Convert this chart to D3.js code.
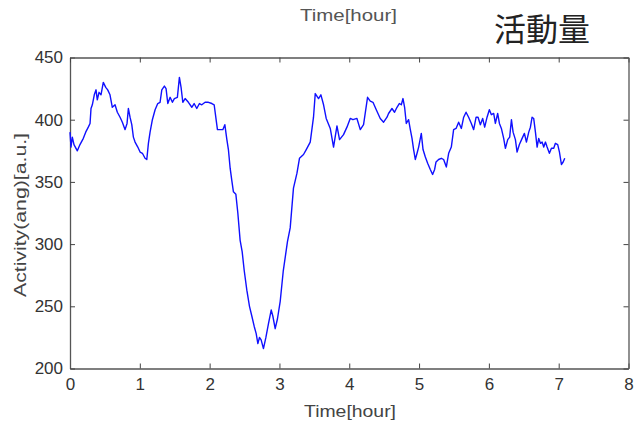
<!DOCTYPE html>
<html lang="ja">
<head>
<meta charset="utf-8">
<script src="https://cdn.jsdelivr.net/npm/d3@7"></script>
<style>
  body { margin: 0; background: #fff; }
  text { font-family: "Liberation Sans", Arial, sans-serif; }
  .jp { font-family: "Noto Sans CJK JP", sans-serif; }
</style>
</head>
<body>
<svg width="637" height="425"></svg>
<script>
// 時間 [hour]
var hours = [0.000,0.014,0.033,0.057,0.105,0.143,0.191,0.225,0.262,0.287,0.301,0.320,0.348,0.373,0.391,0.416,0.444,0.477,0.512,0.540,
  0.573,0.606,0.645,0.678,0.717,0.750,0.789,0.817,0.836,0.860,0.885,0.908,0.932,0.971,1.004,1.037,1.075,1.100,1.123,1.147,
  1.180,1.219,1.257,1.290,1.315,1.352,1.376,1.401,1.434,1.467,1.495,1.538,1.567,1.591,1.616,1.649,1.696,1.745,1.778,1.816,
  1.854,1.888,1.935,1.983,2.032,2.065,2.093,2.112,2.151,2.189,2.218,2.247,2.269,2.294,2.318,2.341,2.376,2.404,2.437,2.466,
  2.495,2.533,2.571,2.605,2.638,2.667,2.691,2.714,2.738,2.771,2.806,2.843,2.882,2.906,2.939,2.972,3.011,3.054,3.115,3.154,
  3.201,3.251,3.287,3.345,3.384,3.441,3.488,3.513,3.560,3.594,3.632,3.670,3.728,3.775,3.824,3.861,3.918,3.967,4.014,4.053,
  4.110,4.158,4.205,4.262,4.301,4.340,4.387,4.444,4.492,4.541,4.563,4.612,4.649,4.684,4.717,4.746,4.770,4.793,4.817,4.850,
  4.875,4.899,4.922,4.946,4.971,4.994,5.032,5.057,5.090,5.123,5.161,5.194,5.223,5.243,5.280,5.319,5.352,5.391,5.424,5.462,
  5.495,5.530,5.567,5.606,5.639,5.673,5.710,5.749,5.782,5.817,5.845,5.878,5.911,5.940,5.974,6.007,6.036,6.069,6.093,6.126,
  6.151,6.179,6.212,6.237,6.270,6.298,6.323,6.347,6.380,6.404,6.437,6.476,6.509,6.538,6.571,6.595,6.619,6.642,6.667,6.691,
  6.714,6.738,6.763,6.786,6.810,6.834,6.867,6.896,6.929,6.953,6.986,7.011,7.039,7.064,7.087];
// 活動量 [a.u.]
var activity = [390,378,386,380,375,380,385,390,394,397,409,412,420,424,416,422,420,430,426,424,
  420,410,412,406,402,398,392,397,409,402,396,386,382,378,374,373,369,368,381,390,
  400,408,413,414,424,427,425,413,418,414,417,418,434,426,414,417,414,410,413,409,
  413,412,414,414,413,412,400,392,392,392,396,384,376,361,351,342,340,325,303,294,
  279,263,250,242,234,228,220,225,223,216,225,236,247,242,232,240,254,278,302,313,
  345,357,369,372,376,382,402,421,417,420,412,401,393,378,395,384,388,394,401,400,
  401,392,396,418,415,414,408,401,398,402,405,409,406,410,413,412,417,410,397,400,
  392,385,376,368,373,378,389,376,370,365,360,356,360,366,368,369,368,362,373,378,
  392,393,398,393,402,406,402,397,392,402,402,396,401,394,402,408,404,405,397,405,
  397,393,385,377,384,386,400,390,384,374,380,385,389,382,390,394,402,401,390,378,
  385,381,382,378,382,378,373,377,377,381,380,374,364,366,369];

var xTicks = [0,1,2,3,4,5,6,7,8];
var yTicks = [200,250,300,350,400,450];

var svg = d3.select("svg");
var margin = {left: 70, top: 57.5, right: 8.5, bottom: 56.5};
var W = 637 - margin.left - margin.right;
var H = 425 - margin.top - margin.bottom;

var x = d3.scaleLinear().domain([0, 8]).range([0, W]);
var y = d3.scaleLinear().domain([200, 450]).range([H, 0]);

var g = svg.append("g").attr("transform", "translate(" + margin.left + "," + margin.top + ")");

// 枠と目盛り（内向き、四辺）
function styleAxis(sel) {
  sel.select(".domain").attr("stroke", "#555").attr("stroke-width", 1.3);
  sel.selectAll(".tick line").attr("stroke", "#444");
  sel.selectAll(".tick text").attr("fill", "#333").style("font-size", "17px");
}
g.append("g").attr("transform", "translate(0," + H + ")")
  .call(d3.axisBottom(x).tickValues(xTicks).tickSizeInner(-5).tickSizeOuter(0).tickPadding(9))
  .call(styleAxis);
g.append("g")
  .call(d3.axisLeft(y).tickValues(yTicks).tickSizeInner(-5).tickSizeOuter(0).tickPadding(7))
  .call(styleAxis);
g.append("g")
  .call(d3.axisTop(x).tickValues(xTicks).tickSizeInner(-5).tickSizeOuter(0).tickFormat(""))
  .call(styleAxis);
g.append("g").attr("transform", "translate(" + W + ",0)")
  .call(d3.axisRight(y).tickValues(yTicks).tickSizeInner(-5).tickSizeOuter(0).tickFormat(""))
  .call(styleAxis);

// 折れ線
var line = d3.line()
  .x(function(d, i) { return x(hours[i]); })
  .y(function(d) { return y(d); });
g.append("path")
  .datum(activity)
  .attr("d", line)
  .attr("fill", "none")
  .attr("stroke", "#1010ff")
  .attr("stroke-width", 1.4)
  .attr("stroke-linejoin", "round");

// ラベル
svg.append("text").attr("x", 300).attr("y", 21)
  .attr("textLength", 97).attr("lengthAdjust", "spacingAndGlyphs")
  .attr("fill", "#555").style("font-size", "17px").text("Time[hour]");
svg.append("text").attr("x", 304).attr("y", 417)
  .attr("textLength", 92).attr("lengthAdjust", "spacingAndGlyphs")
  .attr("fill", "#444").style("font-size", "17px").text("Time[hour]");
svg.append("text").attr("transform", "translate(26,297) rotate(-90)")
  .attr("textLength", 164).attr("lengthAdjust", "spacingAndGlyphs")
  .attr("fill", "#444").style("font-size", "17px").text("Activity(ang)[a.u.]");
svg.append("text").attr("class", "jp").attr("x", 542).attr("y", 41).attr("text-anchor", "middle")
  .attr("fill", "#222").style("font-size", "32px").text("活動量");
</script>
</body>
</html>
